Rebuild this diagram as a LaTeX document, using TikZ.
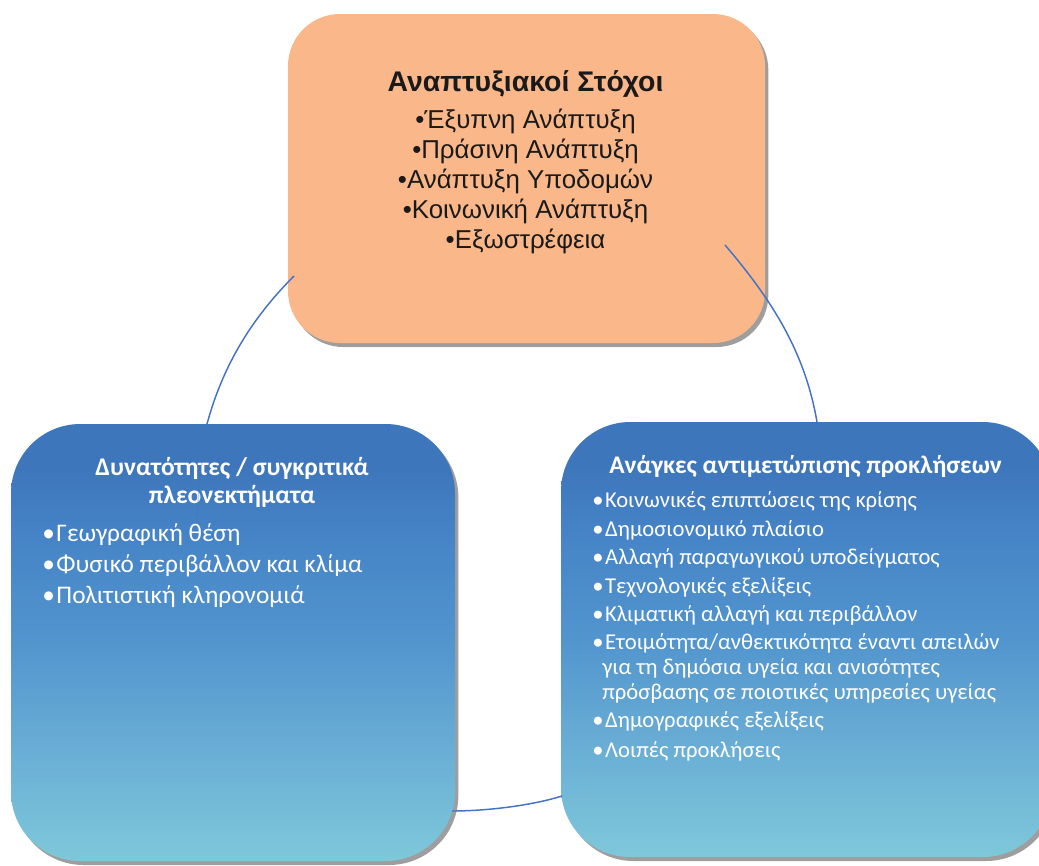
\documentclass[tikz,border=0pt]{standalone}
\usepackage{fontspec}
\setmainfont{Liberation Sans}
\newfontfamily\calfont{Carlito}
\usetikzlibrary{shadows}
\definecolor{peach}{RGB}{249,183,138}
\definecolor{gA}{RGB}{126,200,218}
\definecolor{gB}{RGB}{106,174,213}
\definecolor{gC}{RGB}{82,149,206}
\definecolor{gD}{RGB}{69,131,198}
\definecolor{gE}{RGB}{62,118,187}
\definecolor{connblue}{RGB}{68,114,196}
\definecolor{txt}{RGB}{26,26,26}
\pgfdeclareverticalshading{bluegrad}{100bp}{color(0bp)=(gA); color(25bp)=(gA); color(37.5bp)=(gB); color(50bp)=(gC); color(62.5bp)=(gD); color(70bp)=(gE); color(100bp)=(gE)}
\newcommand{\bul}{•\hspace{1.2pt}}
\begin{document}
\begin{tikzpicture}[x=0.75pt,y=-0.75pt,
  shad/.style={drop shadow={shadow xshift=2.5pt, shadow yshift=-3pt, fill=black!38, opacity=1}},
  topbox/.style={shad, fill=peach, rounded corners=39pt, inner sep=0pt},
  bluebox/.style={shad, shade, shading=bluegrad, rounded corners=52pt, inner sep=0pt},
  toptitle/.style={anchor=base, inner sep=0pt, text=txt, font=\fontsize{21.3}{25}\selectfont\bfseries},
  topitem/.style={anchor=base, inner sep=0pt, text=txt, font=\fontsize{19.4}{23}\selectfont},
  ltitle/.style={anchor=base, inner sep=0pt, text=white, font=\calfont\fontsize{19.1}{23}\selectfont\bfseries},
  litem/.style={anchor=base west, inner sep=0pt, text=white, font=\calfont\fontsize{19}{23}\selectfont},
  rtitle/.style={anchor=base, inner sep=0pt, text=white, font=\calfont\fontsize{19}{23}\selectfont\bfseries},
  ritem/.style={anchor=base west, inner sep=0pt, text=white, font=\calfont\fontsize{17}{20}\selectfont},
  conn/.style={draw=connblue, line width=1.1pt}]
\useasboundingbox (0,0) rectangle (1039,865);
% boxes
\node[topbox, minimum width=357.75pt, minimum height=246.75pt] (goals) at (526.5,178.5) {};
\node[bluebox, minimum width=333pt, minimum height=327.75pt] (strengths) at (233,642.5) {};
\node[bluebox, minimum width=368.25pt, minimum height=326.25pt] (needs) at (806.5,639.5) {};
% top texts
\node[toptitle] (g0) at (525.5,91) {Αναπτυξιακοί Στόχοι};
\node[topitem] (g1) at (525.5,128) {•Έξυπνη Ανάπτυξη};
\node[topitem] (g2) at (525.5,158) {•Πράσινη Ανάπτυξη};
\node[topitem] (g3) at (525.5,188) {•Ανάπτυξη Υποδομών};
\node[topitem] (g4) at (525.5,218) {•Κοινωνική Ανάπτυξη};
\node[topitem] (g5) at (525.5,248) {•Εξωστρέφεια};
% left texts
\node[ltitle] (s0) at (232,475) {Δυνατότητες / συγκριτικά};
\node[ltitle] (s0b) at (232,503) {πλεονεκτήματα};
\node[litem] (s1) at (42,541) {\bul Γεωγραφική θέση};
\node[litem] (s2) at (42,572) {\bul Φυσικό περιβάλλον και κλίμα};
\node[litem] (s3) at (42,603) {\bul Πολιτιστική κληρονομιά};
% right texts
\node[rtitle] (n0) at (805.5,473) {Ανάγκες αντιμετώπισης προκλήσεων};
\node[ritem] (n1) at (592,507) {\bul Κοινωνικές επιπτώσεις της κρίσης};
\node[ritem] (n2) at (592,536) {\bul Δημοσιονομικό πλαίσιο};
\node[ritem] (n3) at (592,564) {\bul Αλλαγή παραγωγικού υποδείγματος};
\node[ritem] (n4) at (592,593) {\bul Τεχνολογικές εξελίξεις};
\node[ritem] (n5) at (592,621) {\bul Κλιματική αλλαγή και περιβάλλον};
\node[ritem] (n6) at (592,649) {\bul Ετοιμότητα/ανθεκτικότητα έναντι απειλών};
\node[ritem] (n6b) at (602,674) {για τη δημόσια υγεία και ανισότητες};
\node[ritem] (n6c) at (602,699) {πρόσβασης σε ποιοτικές υπηρεσίες υγείας};
\node[ritem] (n7) at (592,727) {\bul Δημογραφικές εξελίξεις};
\node[ritem] (n8) at (592,757) {\bul Λοιπές προκλήσεις};
% connector end points
\coordinate (a1) at (294,276);
\coordinate (a2) at (207,424);
\coordinate (a3) at (197,517);
\coordinate (b1) at (725,245);
\coordinate (b2) at (817,422);
\coordinate (c1) at (562,796);
\coordinate (c2) at (452,811);
% connectors
\draw[conn] (a1) .. controls (252,318) and (223,365) .. (a2);
\draw[conn, opacity=0.3] (a2) .. controls (202,455) and (199,487) .. (a3);
\draw[conn] (b1) .. controls (772,300) and (805,352) .. (b2);
\draw[conn] (c1) .. controls (530,806) and (485,811) .. (c2);
\end{tikzpicture}
\end{document}
